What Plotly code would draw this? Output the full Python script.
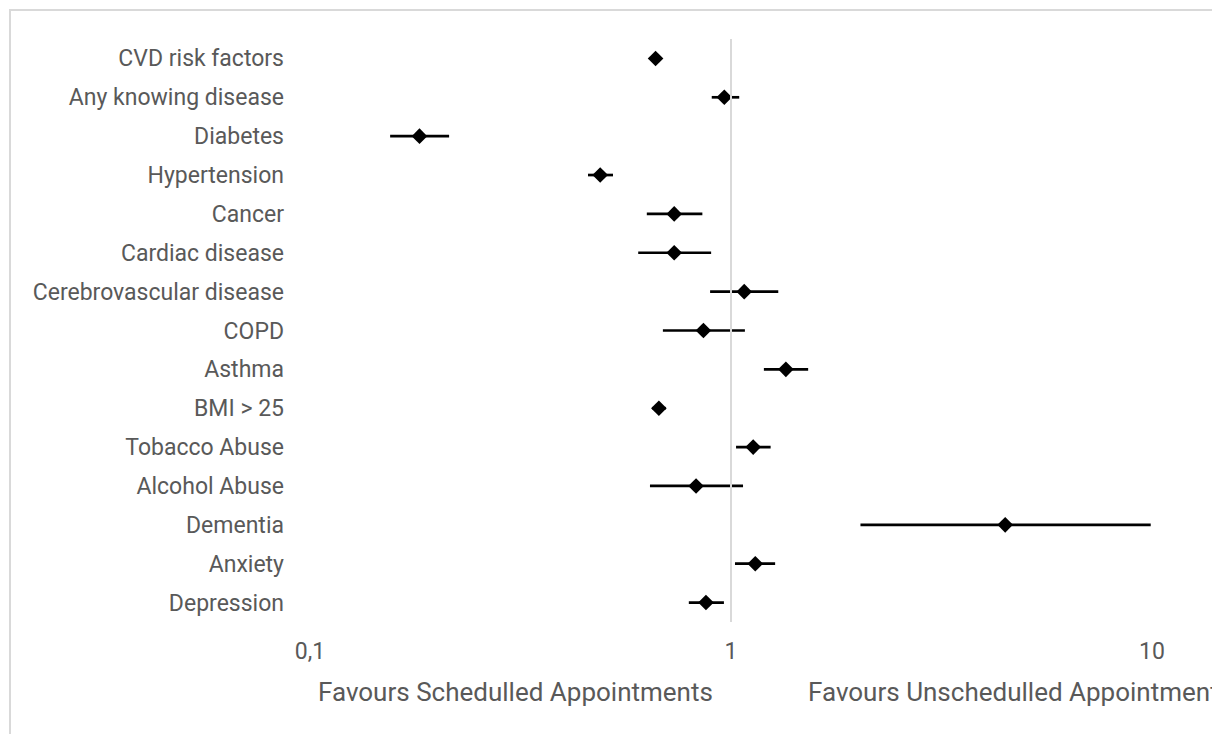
import plotly.graph_objects as go

categories = ["CVD risk factors", "Any knowing disease", "Diabetes", "Hypertension",
              "Cancer", "Cardiac disease", "Cerebrovascular disease", "COPD", "Asthma",
              "BMI > 25", "Tobacco Abuse", "Alcohol Abuse", "Dementia", "Anxiety", "Depression"]
estimate = [0.662, 0.964, 0.182, 0.489, 0.733, 0.733, 1.075, 0.860, 1.350,
            0.674, 1.129, 0.826, 4.48, 1.142, 0.872]
lower = [0.645, 0.900, 0.155, 0.4575, 0.631, 0.602, 0.892, 0.689, 1.197,
         0.650, 1.028, 0.642, 2.03, 1.022, 0.794]
upper = [0.680, 1.046, 0.214, 0.5245, 0.855, 0.897, 1.295, 1.079, 1.525,
         0.700, 1.242, 1.068, 9.93, 1.273, 0.962]
tick_vals = [0.1, 1, 10]
tick_text = ["0,1", "1", "10"]
null_line_x = [1, 1]
null_line_y = [0, 1]

FONT = "Roboto"
GREY = "#595959"

fig = go.Figure()
fig.add_trace(go.Scatter(
    x=estimate, y=categories, mode="markers",
    marker=dict(symbol="diamond", size=12, color="black"),
    error_x=dict(type="data", symmetric=False,
                 array=[u - e for u, e in zip(upper, estimate)],
                 arrayminus=[e - l for e, l in zip(estimate, lower)],
                 color="black", thickness=2.7, width=0),
    showlegend=False, hoverinfo="skip"))
fig.add_trace(go.Scatter(
    x=null_line_x, y=null_line_y, mode="lines", yaxis="y2",
    line=dict(color="#d9d9d9", width=2), showlegend=False, hoverinfo="skip"))

# figure-pixel geometry (page body adds an 8px offset)
OFF = 8
L, R, T, B = 310 - OFF, 1152 - OFF, 39 - OFF, 622 - OFF
W, H = 1220, 734
pw, ph = R - L, B - T

def px(x):
    return (x - OFF - L) / pw

def py(y):
    return (B - (y - OFF)) / ph

fig.update_layout(
    width=W, height=H, autosize=False,
    margin=dict(l=L, r=W - R, t=T, b=H - B),
    paper_bgcolor="white", plot_bgcolor="white",
    font=dict(family=FONT, size=23, color=GREY),
    xaxis=dict(type="log", range=[-1, 1], tickvals=tick_vals, ticktext=tick_text,
               showgrid=False, zeroline=False, showline=False, ticks="",
               ticklabelstandoff=13, tickfont=dict(size=23, color=GREY)),
    yaxis=dict(type="category", categoryorder="array", categoryarray=categories,
               range=[14.5, -0.5], showgrid=False, zeroline=False, showline=False,
               ticks="", ticklabelstandoff=25, tickfont=dict(size=23, color=GREY)),
    yaxis2=dict(overlaying="y", range=[0, 1], visible=False),
    shapes=[dict(type="rect", xref="paper", yref="paper",
                 x0=px(10), x1=px(1214), y0=py(780), y1=py(10),
                 line=dict(color="#d9d9d9", width=2), layer="below")],
    annotations=[
        dict(text="Favours Schedulled Appointments", xref="paper", yref="paper",
             x=px(316), y=py(692), xanchor="left", yanchor="middle", showarrow=False,
             font=dict(size=26, color=GREY, family=FONT)),
        dict(text="Favours Unschedulled Appointment", xref="paper", yref="paper",
             x=px(806), y=py(692), xanchor="left", yanchor="middle", showarrow=False,
             font=dict(size=26, color=GREY, family=FONT)),
    ],
)

fig.write_html("out.html")
